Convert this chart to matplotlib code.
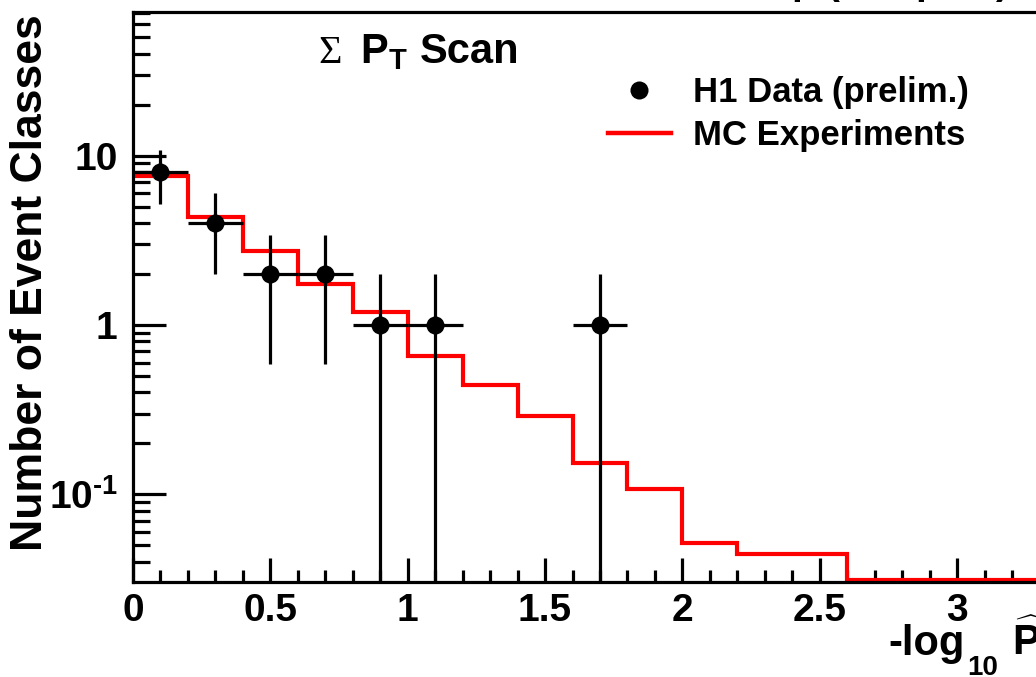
import numpy as np
import matplotlib
matplotlib.use('Agg')
import matplotlib.pyplot as plt
from matplotlib.lines import Line2D
from matplotlib.ticker import MultipleLocator, FixedLocator, FixedFormatter, FuncFormatter, LogLocator, NullFormatter

plt.rcParams['font.family'] = ['Liberation Sans', 'DejaVu Sans']
plt.rcParams['font.weight'] = 'bold'
plt.rcParams['mathtext.fontset'] = 'custom'
plt.rcParams['mathtext.rm'] = 'Liberation Sans:bold'
plt.rcParams['mathtext.bf'] = 'Liberation Sans:bold'
plt.rcParams['mathtext.it'] = 'Liberation Sans:bold'

# H1 data points (bin centres, counts)
data_x = [0.1, 0.3, 0.5, 0.7, 0.9, 1.1, 1.7]
data_n = [8, 4, 2, 2, 1, 1, 1]

# MC expectation histogram
mc_edges = [0.0, 0.2, 0.4, 0.6, 0.8, 1.0, 1.2, 1.4, 1.6, 1.8, 2.0,
            2.2, 2.4, 2.6, 2.8, 3.0, 3.2, 3.4, 3.6, 3.8, 4.0]
mc_vals = [7.55, 4.35, 2.75, 1.75, 1.19, 0.66, 0.44, 0.29, 0.154, 0.108,
           0.052, 0.0446, 0.0446, 0, 0, 0, 0, 0, 0, 0]

ytick_vals = [0.1, 1, 10]
ytick_labels = [r'$\mathbf{10^{\text{-}1}}$', '1', '10']

W, H = 1036, 677
ylo, yhi = 0.0304, 70.5
px_per_unit = 274.7

fig = plt.figure(figsize=(W / 100, H / 100), dpi=100)
# axes run past the right edge of the picture, like the cropped original
ax = fig.add_axes([133 / W, 95 / H, 4 * px_per_unit / W, 570 / H])
ax.set_yscale('log')
ax.set_xlim(0, 4)
ax.set_ylim(ylo, yhi)

# empty bins sit on the bottom of the frame, ROOT style
mc_plot = np.clip(np.array(mc_vals), ylo * 1.03, None)
ax.stairs(mc_plot, mc_edges, color='red', lw=3.0, baseline=None, zorder=2)

yerr = np.sqrt(np.array(data_n, dtype=float))
ax.errorbar(data_x, data_n, xerr=0.1, yerr=yerr, fmt='o', color='black',
            ms=13, mew=0, elinewidth=2.3, capsize=0, zorder=3)

for s in ['left', 'bottom', 'top', 'right']:
    ax.spines[s].set_linewidth(2.3)
    ax.spines[s].set_zorder(4)

ax.xaxis.set_major_locator(MultipleLocator(0.5))
ax.xaxis.set_minor_locator(MultipleLocator(0.1))
ax.xaxis.set_major_formatter(FuncFormatter(lambda v, p: f'{v:g}'))
ax.yaxis.set_major_locator(FixedLocator(ytick_vals))
ax.yaxis.set_major_formatter(FixedFormatter(ytick_labels))
ax.yaxis.set_minor_locator(LogLocator(base=10, subs=np.arange(2, 10)))
ax.yaxis.set_minor_formatter(NullFormatter())

ax.tick_params(axis='x', which='major', direction='in', length=17.5, width=2.3,
               labelsize=28, pad=8)
ax.tick_params(axis='x', which='minor', direction='in', length=8.5, width=2.3)
ax.tick_params(axis='y', which='major', direction='in', length=24, width=2.3,
               labelsize=28, pad=11)
ax.tick_params(axis='y', which='minor', direction='in', length=12, width=2.3)


def fx(px):
    return px / W


def fy(py):
    return 1 - py / H


fig.text(fx(31), fy(14), 'Number of Event Classes', rotation=90,
         ha='center', va='top', fontsize=32)

# x axis title, right part lies beyond the crop
fig.text(fx(888), fy(655), '-log', ha='left', va='baseline', fontsize=30)
fig.text(fx(967), fy(675), '10', ha='left', va='baseline', fontsize=20)
fig.text(fx(1012), fy(655), r'$\widehat{\mathbf{P}}$', ha='left',
         va='baseline', fontsize=30)

fig.text(fx(318), fy(63), '\u03a3', family=['Liberation Serif'],
         fontweight='normal', ha='left', va='baseline', fontsize=29)
fig.text(fx(360), fy(63), r'$\mathbf{P_T}$', ha='left', va='baseline', fontsize=30)
fig.text(fx(420), fy(63), 'Scan', ha='left', va='baseline', fontsize=30)

# title sits above the crop, only its descenders show
fig.text(fx(1008), fy(-5), r'e$^{+}$p (463 pb$^{-1}$)', ha='right',
         va='baseline', fontsize=28)

h_data = Line2D([], [], ls='none', marker='o', color='black', ms=13, mew=0)
h_mc = Line2D([], [], color='red', lw=3.2)
ax.legend([h_data, h_mc], ['H1 Data (prelim.)', 'MC Experiments'],
          loc='upper left', bbox_to_anchor=(fx(608), fy(76)),
          bbox_transform=fig.transFigure, frameon=False, fontsize=25,
          borderpad=0, borderaxespad=0, handlelength=1.8, handletextpad=0.65,
          labelspacing=0.28)

fig.savefig('out.png', dpi=100)
